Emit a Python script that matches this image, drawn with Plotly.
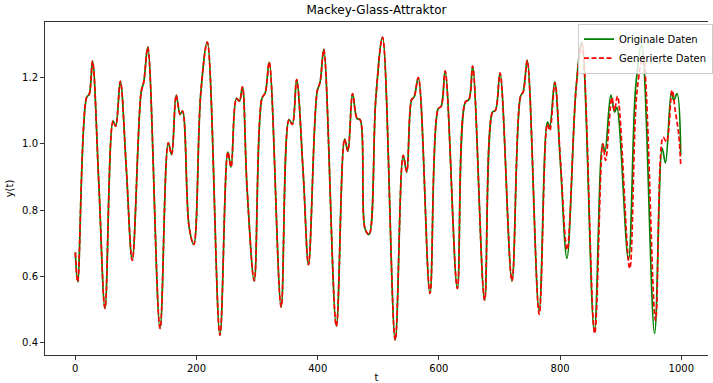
import plotly.graph_objects as go

# Original data (knots)
orig_t = [0, 4, 18.6, 23, 28.4, 38.8, 49, 62.3, 66.6, 74.3, 84, 94, 108.7, 113, 119.6,
          139.8, 153.4, 158.9, 166.5, 173, 176.9, 187.8, 195.5, 207, 217.8, 238.6,
          251.7, 257, 265.9, 270.8, 275.7, 283.3, 295.3, 307.9, 313.4, 320, 339.6,
          352.7, 358.1, 365.2, 376.1, 384.8, 399, 404, 410, 430.7, 444.4, 449.8,
          457.5, 465, 470, 478, 484.7, 496, 507, 527.9, 541, 546.9, 555, 559, 566,
          585.2, 598.8, 603.7, 610.3, 630.4, 643.5, 649.6, 655.6, 675.3, 688.4,
          693.3, 700.8, 720.5, 734.7, 739.1, 745.7, 765.3, 779, 782.7, 791, 800.2,
          811.2, 826.4, 835.7, 856.4, 870, 874, 883.7, 890, 893.6, 912.7, 924.7,
          934.5, 955.8, 968.4, 973.8, 983.6, 987.4, 993, 999]
orig_y = [0.672, 0.583, 1.140, 1.150, 1.250, 0.880, 0.503, 1.069, 1.053, 1.189, 0.930,
          0.648, 1.157, 1.187, 1.292, 0.442, 1.003, 0.968, 1.147, 1.089, 1.099, 0.749,
          0.696, 1.152, 1.307, 0.422, 0.975, 0.930, 1.137, 1.129, 1.172, 0.870, 0.586,
          1.137, 1.154, 1.247, 0.507, 1.073, 1.059, 1.194, 0.910, 0.635, 1.157, 1.187,
          1.285, 0.449, 1.014, 0.978, 1.152, 1.076, 1.073, 0.744, 0.726, 1.140, 1.322,
          0.407, 0.965, 0.915, 1.134, 1.141, 1.200, 0.548, 1.106, 1.113, 1.220, 0.563,
          1.126, 1.134, 1.235, 0.528, 1.096, 1.101, 1.214, 0.586, 1.144, 1.157, 1.252,
          0.495, 1.066, 1.051, 1.187, 0.950, 0.654, 1.172, 1.307, 0.432, 1.000, 0.975,
          1.147, 1.096, 1.110, 0.650, 1.172, 1.300, 0.427, 0.986, 0.942, 1.157, 1.131,
          1.152, 0.965]

# Generated data: identical to the original up to ~t=760, then its own values
gen_split = 760
gen_tail_t = [765.5, 779, 783, 791.5, 800.5, 811.5, 826.5, 836, 857, 870.5, 875, 885.4,
              889.5, 894.7, 914.8, 926.5, 936.7, 957.4, 970, 975.5, 984.8, 990, 995.6, 999]
gen_tail_y = [0.485, 1.060, 1.040, 1.185, 0.950, 0.680, 1.170, 1.300, 0.427, 1.000, 0.950,
              1.140, 1.100, 1.144, 0.623, 1.150, 1.265, 0.467, 1.020, 1.006, 1.162, 1.100,
              1.030, 0.935]

gen_t = [t for t in orig_t if t < gen_split] + gen_tail_t
gen_y = [y for t, y in zip(orig_t, orig_y) if t < gen_split] + gen_tail_y

x_ticks = [0, 200, 400, 600, 800, 1000]
y_ticks = [0.4, 0.6, 0.8, 1.0, 1.2]

font = "DejaVu Sans"

fig = go.Figure()
fig.add_trace(go.Scatter(x=orig_t, y=orig_y, mode="lines", name="Originale Daten",
                         line=dict(color="green", width=1.7, shape="spline", smoothing=1)))
fig.add_trace(go.Scatter(x=gen_t, y=gen_y, mode="lines", name="Generierte Daten",
                         line=dict(color="red", width=1.7, dash="5px,2.5px",
                                   shape="spline", smoothing=1)))

fig.update_layout(
    width=713, height=383,
    margin=dict(l=45, r=0, t=22, b=28),
    paper_bgcolor="white", plot_bgcolor="white",
    font=dict(family=font, size=10, color="black"),
    title=dict(text="Mackey-Glass-Attraktor", x=0.5, xref="paper", xanchor="center",
               y=1 - 10 / 383, yanchor="middle", font=dict(size=12, family=font)),
    showlegend=True,
    legend=dict(x=1.008, xanchor="right", y=0.995, yanchor="top",
                bgcolor="rgba(255,255,255,0.8)", bordercolor="#cccccc", borderwidth=1,
                font=dict(size=10, family=font), tracegroupgap=0,
                itemwidth=30),
)
fig.update_xaxes(range=[-50, 1044], tickvals=x_ticks, ticktext=[str(v) for v in x_ticks],
                 showgrid=False, zeroline=False, showline=True, linecolor="#333333",
                 linewidth=1, mirror=True, ticks="outside", ticklen=4, tickcolor="#333333",
                 title=dict(text="t", standoff=2, font=dict(size=10)), automargin=False)
fig.update_yaxes(range=[0.362, 1.368], tickvals=y_ticks, ticktext=[f"{v:.1f}" for v in y_ticks],
                 showgrid=False, zeroline=False, showline=True, linecolor="#333333",
                 linewidth=1, mirror=False, ticks="outside", ticklen=4, tickcolor="#333333",
                 title=dict(text="y(t)", standoff=6, font=dict(size=10)), automargin=False)

fig.write_html("out.html", config={"displayModeBar": False},
               post_script="document.body.style.margin='0';document.body.style.overflow='hidden';")
